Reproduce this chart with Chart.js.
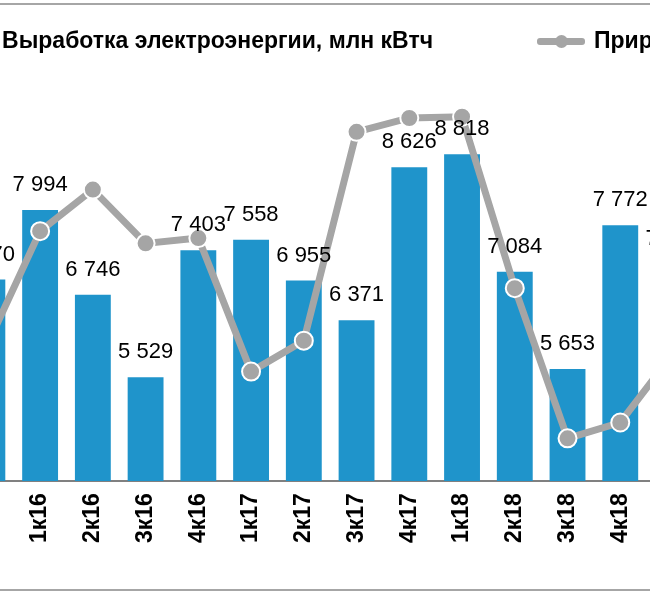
<!DOCTYPE html>
<html><head><meta charset="utf-8">
<script src="https://cdn.jsdelivr.net/npm/chart.js@4"></script>
<style>
body{margin:0;background:#fff;}
#wrap{position:relative;width:650px;height:600px;overflow:hidden;font-family:"Liberation Sans",Arial,sans-serif;}
#box{position:absolute;left:-50px;top:0;width:763px;height:600px;}
.frame{position:absolute;left:0;width:650px;height:2px;background:#a6a6a6;}
.lg{position:absolute;top:27px;font-weight:bold;font-size:23px;white-space:nowrap;color:#000;}
</style></head><body>
<div id="wrap">
<div id="box"><canvas id="c"></canvas></div>
<div class="frame" style="top:3px"></div>
<div class="frame" style="top:589px"></div>
<div class="lg" style="right:217px">Выработка электроэнергии, млн кВтч</div>
<div style="position:absolute;left:537px;top:38px;width:48px;height:7px;background:#a5a5a5;border-radius:3px"></div>
<div style="position:absolute;left:555px;top:35px;width:13px;height:13px;background:#a5a5a5;border-radius:7px"></div>
<div class="lg" style="left:594px">Прирост, %</div>
</div>
<script>
const quarters = ['4к15','1к16','2к16','3к16','4к16','1к17','2к17','3к17','4к17','1к18','2к18','3к18','4к18','1к19'];
const output = [6970, 7994, 6746, 5529, 7403, 7558, 6955, 6371, 8626, 8818, 7084, 5653, 7772, 7200];
const growth = [33.5, 61.4, 71.6, 58.4, 59.7, 26.9, 34.5, 85.8, 89.2, 89.5, 47.4, 10.5, 14.4, 31.3];

const fmt = v => String(v).replace(/\B(?=(\d{3})+(?!\d))/g, ' ');

const barLabels = {
  id: 'barLabels',
  afterDatasetsDraw(chart) {
    const ctx = chart.ctx;
    const meta = chart.getDatasetMeta(0);
    ctx.save();
    ctx.font = '22px "Liberation Sans", Arial, sans-serif';
    ctx.fillStyle = '#000';
    ctx.textAlign = 'center';
    ctx.textBaseline = 'bottom';
    meta.data.forEach((bar, i) => {
      ctx.fillText(fmt(output[i]), bar.x, bar.y - 14);
    });
    ctx.restore();
  }
};

new Chart(document.getElementById('c'), {
  data: {
    labels: quarters,
    datasets: [{
      type: 'bar',
      label: 'Выработка электроэнергии, млн кВтч',
      data: output,
      backgroundColor: '#1f94cb',
      categoryPercentage: 1,
      barPercentage: 0.68,
      yAxisID: 'y',
      order: 2
    }, {
      type: 'line',
      label: 'Прирост, %',
      data: growth,
      borderColor: '#a5a5a5',
      borderWidth: 7,
      pointRadius: 9,
      pointBackgroundColor: '#a5a5a5',
      pointBorderColor: '#fff',
      pointBorderWidth: 2,
      tension: 0,
      yAxisID: 'y2',
      order: 1
    }]
  },
  options: {
    responsive: true,
    maintainAspectRatio: false,
    animation: false,
    layout: { padding: { top: 74, bottom: 45, left: 0, right: 0 } },
    plugins: { legend: { display: false }, tooltip: { enabled: false } },
    scales: {
      x: {
        grid: { display: false, drawTicks: false },
        border: { color: '#808080', width: 2 },
        ticks: { maxRotation: 90, minRotation: 90, padding: 12, color: '#000',
                 font: { size: 23, weight: 'bold', family: '"Liberation Sans", Arial, sans-serif' } }
      },
      y: { display: false, min: 4000, max: 10000 },
      y2: { display: false, min: 0, max: 100 }
    }
  },
  plugins: [barLabels]
});
</script>
</body></html>
